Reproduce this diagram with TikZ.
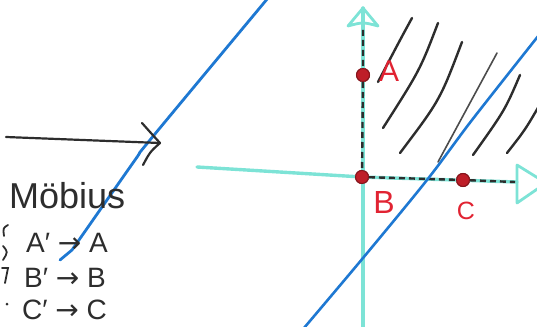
\documentclass[tikz,border=0pt]{standalone}
\usepackage{fontspec}
\setmainfont{Liberation Sans}
\newfontfamily\arrfont{DejaVu Sans}
\definecolor{lineblue}{RGB}{30,120,210}
\definecolor{axiscyan}{RGB}{125,227,214}
\definecolor{ink}{RGB}{45,45,45}
\definecolor{ptred}{RGB}{190,30,40}
\definecolor{labred}{RGB}{225,35,50}
\begin{document}
\begin{tikzpicture}[x=1pt,y=-1pt,
  blueline/.style={draw=lineblue,line width=2.8pt,line cap=round},
  axisline/.style={draw=axiscyan,line width=3.4pt,line cap=round},
  dashink/.style={draw=ink,line width=2.4pt,dash pattern=on 6pt off 4pt},
  hatch/.style={draw=ink,line width=2.4pt,line cap=round},
  ptdot/.style={circle,fill=ptred,draw=ptred!70!black,line width=1pt,minimum size=13pt,inner sep=0pt},
  redlab/.style={text=labred,inner sep=0pt},
  inktext/.style={text=ink,inner sep=0pt,anchor=base west}]
\useasboundingbox (0,0) rectangle (537,326);
\clip (0,0) rectangle (537,326);
% hatching
\draw[hatch] (412,18) .. controls (400,40) .. (378,82);
\draw[hatch] (438,23) .. controls (420,70) .. (383,128);
\draw[hatch] (462,42) .. controls (440,100) .. (400,153);
\draw[hatch,line width=1.6pt,draw=ink!85] (497,53) -- (438,162);
\draw[hatch] (520,75) .. controls (505,110) .. (473,155);
\draw[hatch] (539,106) .. controls (525,130) .. (507,153);
% axes
\coordinate (hstart) at (197,167);
\coordinate (htip) at (546,183);
\coordinate (vbot) at (363,330);
\coordinate (vtip) at (363,8);
\node[ptdot] (B) at (362,177) {};
\node[ptdot] (A) at (363,75) {};
\node[ptdot] (C) at (463,180) {};
\draw[axisline] (hstart) .. controls (280,172) .. (B.center) -- (517,182);
\draw[axisline] (vbot) -- (vtip);
\draw[axisline,line width=2.8pt,line join=round] (517,165) -- (517,203) -- (htip) -- cycle;
\draw[axisline,line width=2.8pt,line join=round] (348,26) .. controls (363,22) .. (378,26) -- (vtip) -- cycle;
\draw[dashink] (363,30) -- (A) -- (B);
\draw[dashink] (B) -- (C) -- (515,182);
\node[ptdot] at (B) {};
\node[ptdot] at (A) {};
\node[ptdot] at (C) {};
% blue lines
\draw[blueline] plot[smooth] coordinates {(268,-2) (150,140) (135,160) (72,250)} -- (60,260);
\draw[blueline,line width=2.6pt] plot[smooth] coordinates {(539,35) (472,120) (427,180) (363,258) (304,328)};
% black arrow
\coordinate (astart) at (6,137);
\coordinate (aend) at (160,143);
\draw[ink,line width=2.2pt,line cap=round] (astart) -- (aend);
\draw[ink,line width=2.2pt,line cap=round,line join=round] (142,123) .. controls (150,132) .. (aend) .. controls (150,152) .. (143,165);
% labels
\node[redlab,font=\fontsize{30}{30}\selectfont] (lA) at (389,71) {A};
\node[redlab,font=\fontsize{32}{32}\selectfont] (lB) at (384,202) {B};
\node[redlab,font=\fontsize{25}{25}\selectfont] (lC) at (466,211) {C};
% text
\node[inktext,font=\fontsize{36}{36}\selectfont] (mob) at (9,208) {Möbius};
\node[inktext,font=\fontsize{28}{28}\selectfont] (l1) at (26,252) {A′ {\arrfont→} A};
\node[inktext,font=\fontsize{28}{28}\selectfont] (l2) at (24,287) {B′ {\arrfont→} B};
\node[inktext,font=\fontsize{28}{28}\selectfont] (l3) at (22,319) {C′ {\arrfont→} C};
% cut-off marks at left edge
\draw[ink,line width=1.8pt,line cap=round] (8,225) .. controls (3,228) .. (4,236);
\draw[ink,line width=1.8pt,line cap=round] (3,246) .. controls (8,252) .. (3,260);
\draw[ink,line width=1.8pt,line cap=round] (2,268) -- (8,268) -- (5,283);
\fill[ink] (7,304) circle (1.5pt);
\end{tikzpicture}
\end{document}
